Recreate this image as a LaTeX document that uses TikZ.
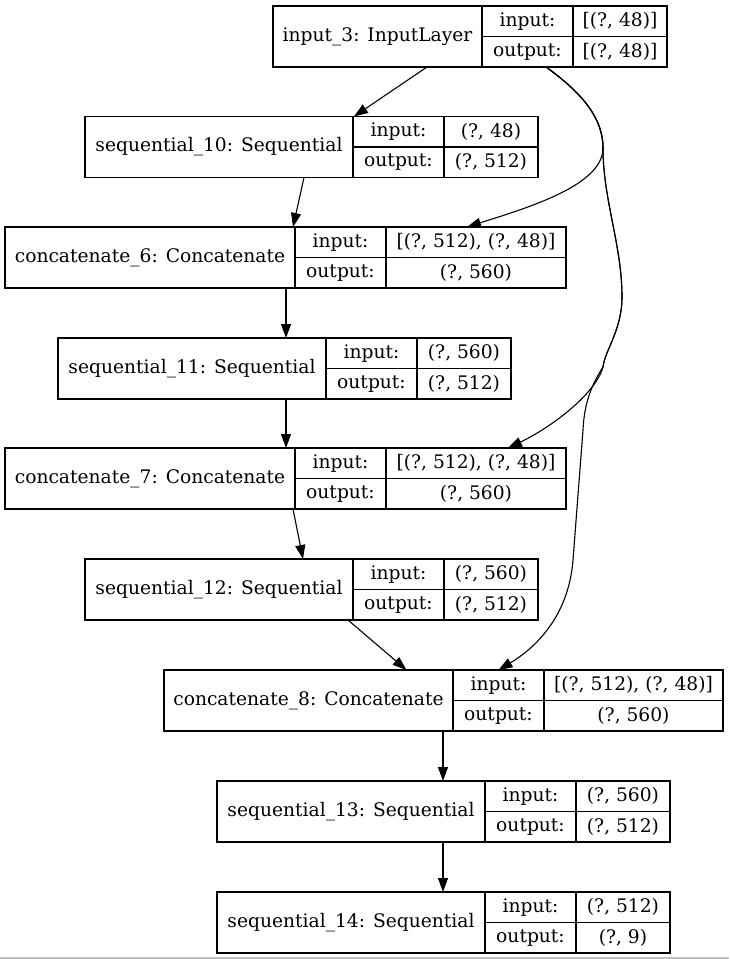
\documentclass[tikz,border=0pt]{standalone}
\usepackage{fontspec}
\setmainfont{DejaVu Serif}
\usepackage{tikz}
\usetikzlibrary{arrows.meta}

\begin{document}
\begin{tikzpicture}[x=1pt,y=-1pt,line width=1.33pt,
    >={Triangle[length=14pt,width=10pt]},
    font=\fontsize{18.67pt}{22pt}\selectfont]
    \tikzstyle{namecell}=[draw,rectangle,inner sep=0pt,outer sep=0pt,minimum height=61pt]
    \tikzstyle{keycell}=[draw,rectangle,inner sep=0pt,outer sep=0pt,minimum height=30.5pt,minimum width=91pt,anchor=north west]
    \tikzstyle{valcell}=[draw,rectangle,inner sep=0pt,outer sep=0pt,minimum height=30.5pt,anchor=north west]
    \tikzstyle{edge}=[->,line width=1.1pt]
\useasboundingbox (0,0) rectangle (729,959);
\fill[white] (0,0) rectangle (729,959);
\draw[black!25,line width=2pt] (0,958) -- (729,958);

% input_3
\node[namecell,minimum width=209pt] (in3) at (377.5,36.5) {input\_3: InputLayer};
\node[keycell] (in3ik) at (in3.north east) {input:};
\node[keycell] (in3ok) at (in3ik.south west) {output:};
\node[valcell,minimum width=94pt] (in3iv) at (in3ik.north east) {[(?, 48)]};
\node[valcell,minimum width=94pt] (in3ov) at (in3iv.south west) {[(?, 48)]};

% sequential_10
\node[namecell,minimum width=268pt] (seq10) at (219,147) {sequential\_10: Sequential};
\node[keycell] (seq10ik) at (seq10.north east) {input:};
\node[keycell] (seq10ok) at (seq10ik.south west) {output:};
\node[valcell,minimum width=94pt] (seq10iv) at (seq10ik.north east) {(?, 48)};
\node[valcell,minimum width=94pt] (seq10ov) at (seq10iv.south west) {(?, 512)};

% concatenate_6
\node[namecell,minimum width=290pt] (cat6) at (150,257.5) {concatenate\_6: Concatenate};
\node[keycell] (cat6ik) at (cat6.north east) {input:};
\node[keycell] (cat6ok) at (cat6ik.south west) {output:};
\node[valcell,minimum width=180pt] (cat6iv) at (cat6ik.north east) {[(?, 512), (?, 48)]};
\node[valcell,minimum width=180pt] (cat6ov) at (cat6iv.south west) {(?, 560)};

% sequential_11
\node[namecell,minimum width=268pt] (seq11) at (192,368.5) {sequential\_11: Sequential};
\node[keycell] (seq11ik) at (seq11.north east) {input:};
\node[keycell] (seq11ok) at (seq11ik.south west) {output:};
\node[valcell,minimum width=94pt] (seq11iv) at (seq11ik.north east) {(?, 560)};
\node[valcell,minimum width=94pt] (seq11ov) at (seq11iv.south west) {(?, 512)};

% concatenate_7
\node[namecell,minimum width=290pt] (cat7) at (150,478.5) {concatenate\_7: Concatenate};
\node[keycell] (cat7ik) at (cat7.north east) {input:};
\node[keycell] (cat7ok) at (cat7ik.south west) {output:};
\node[valcell,minimum width=180pt] (cat7iv) at (cat7ik.north east) {[(?, 512), (?, 48)]};
\node[valcell,minimum width=180pt] (cat7ov) at (cat7iv.south west) {(?, 560)};

% sequential_12
\node[namecell,minimum width=268pt] (seq12) at (219,589.5) {sequential\_12: Sequential};
\node[keycell] (seq12ik) at (seq12.north east) {input:};
\node[keycell] (seq12ok) at (seq12ik.south west) {output:};
\node[valcell,minimum width=94pt] (seq12iv) at (seq12ik.north east) {(?, 560)};
\node[valcell,minimum width=94pt] (seq12ov) at (seq12iv.south west) {(?, 512)};

% concatenate_8
\node[namecell,minimum width=289pt] (cat8) at (308.5,700.5) {concatenate\_8: Concatenate};
\node[keycell] (cat8ik) at (cat8.north east) {input:};
\node[keycell] (cat8ok) at (cat8ik.south west) {output:};
\node[valcell,minimum width=179pt] (cat8iv) at (cat8ik.north east) {[(?, 512), (?, 48)]};
\node[valcell,minimum width=179pt] (cat8ov) at (cat8iv.south west) {(?, 560)};

% sequential_13
\node[namecell,minimum width=268pt] (seq13) at (351,811.5) {sequential\_13: Sequential};
\node[keycell] (seq13ik) at (seq13.north east) {input:};
\node[keycell] (seq13ok) at (seq13ik.south west) {output:};
\node[valcell,minimum width=94pt] (seq13iv) at (seq13ik.north east) {(?, 560)};
\node[valcell,minimum width=94pt] (seq13ov) at (seq13iv.south west) {(?, 512)};

% sequential_14
\node[namecell,minimum width=268pt] (seq14) at (351,922.5) {sequential\_14: Sequential};
\node[keycell] (seq14ik) at (seq14.north east) {input:};
\node[keycell] (seq14ok) at (seq14ik.south west) {output:};
\node[valcell,minimum width=94pt] (seq14iv) at (seq14ik.north east) {(?, 512)};
\node[valcell,minimum width=94pt] (seq14ov) at (seq14iv.south west) {(?, 9)};

% straight edges
\draw[edge] ([xshift=49.5pt]in3.south) -- ([xshift=1pt]seq10.north east);
\draw[edge] ([xshift=85pt]seq10.south) -- ([xshift=-2pt]cat6.north east);
\draw[edge] ([xshift=136pt]cat6.south) -- ([xshift=94pt]seq11.north);
\draw[edge] ([xshift=94pt]seq11.south) -- ([xshift=136pt]cat7.north);
\draw[edge] ([xshift=143pt]cat7.south) -- ([xshift=84pt]seq12.north);
\draw[edge] ([xshift=129pt]seq12.south) -- ([xshift=98pt]cat8.north);
\draw[edge] ([xshift=134.5pt]cat8.south) -- ([xshift=92pt]seq13.north);
\draw[edge] ([xshift=92pt]seq13.south) -- ([xshift=92pt]seq14.north);

% skip edges from input_3
\draw[edge] ([xshift=18.5pt]in3ok.south) .. controls (585,95) and (603,120) .. (603,148)
    .. controls (603,185) and (530,207) .. ([xshift=-9pt]cat6iv.north);
\draw[edge] ([xshift=18.5pt]in3ok.south) .. controls (585,95) and (603,120) .. (603,148)
    .. controls (603,200) and (622,245) .. (622,297)
    .. controls (622,330) and (605,350) .. (603,367)
    .. controls (595,395) and (550,428) .. ([xshift=32pt]cat7iv.north);
\draw[edge] ([xshift=18.5pt]in3ok.south) .. controls (585,95) and (603,120) .. (603,148)
    .. controls (603,200) and (622,245) .. (622,297)
    .. controls (622,330) and (605,350) .. (603,367)
    .. controls (588,390) and (584,410) .. (583,430)
    -- (573,560) .. controls (569,612) and (540,645) .. (cat8ik.north);
\end{tikzpicture}
\end{document}
